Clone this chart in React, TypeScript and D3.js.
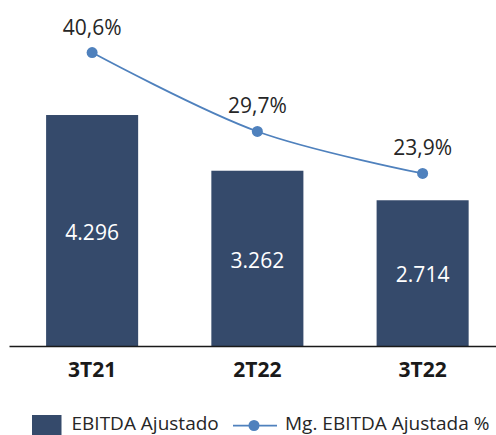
import React from "react";
import * as d3 from "d3";

const categories = ["3T21", "2T22", "3T22"];
const ebitda = [4296, 3262, 2714];
const ebitdaLabels = ["4.296", "3.262", "2.714"];
const margin = [40.6, 29.7, 23.9];
const marginLabels = ["40,6%", "29,7%", "23,9%"];
const legendLabels = ["EBITDA Ajustado", "Mg. EBITDA Ajustada %"];

const W = 496;
const H = 435;
const baseY = 346.5;
const barColor = "#354a6b";
const lineColor = "#4f81bd";
const font = "'Open Sans', sans-serif";

export default function App() {
  const x = d3
    .scaleBand<string>()
    .domain(categories)
    .range([9.5, 505.25])
    .paddingInner(0.443)
    .paddingOuter(0.2215);
  const yBar = d3.scaleLinear().domain([0, 6000]).range([baseY, 23.2]);
  const yLine = d3.scaleLinear().domain([0, 45]).range([baseY, baseY - 45 * 7.24]);

  const cx = (c: string) => (x(c) as number) + x.bandwidth() / 2;
  const pts: [number, number][] = categories.map((c, i) => [cx(c), yLine(margin[i])]);
  const linePath = d3.line().curve(d3.curveCatmullRom.alpha(0.5))(pts) as string;

  return (
    <svg
      width={W}
      height={H}
      style={{ position: "absolute", left: 0, top: 0, background: "#fff" }}
      fontFamily={font}
    >
      {categories.map((c, i) => (
        <rect
          key={c}
          x={x(c)}
          y={yBar(ebitda[i])}
          width={x.bandwidth()}
          height={baseY - yBar(ebitda[i])}
          fill={barColor}
        />
      ))}
      {categories.map((c, i) => (
        <text
          key={c + "l"}
          x={cx(c)}
          y={(yBar(ebitda[i]) + baseY) / 2 + 9}
          textAnchor="middle"
          fontSize={21}
          fill="#ffffff"
        >
          {ebitdaLabels[i]}
        </text>
      ))}
      <line x1={9.5} x2={W} y1={baseY} y2={baseY} stroke="#1a1a1a" strokeWidth={1.5} />
      {categories.map((c) => (
        <text
          key={c + "c"}
          x={cx(c)}
          y={377}
          textAnchor="middle"
          fontSize={21}
          fontWeight="bold"
          fill="#1a1a1a"
        >
          {c}
        </text>
      ))}
      <path d={linePath} fill="none" stroke={lineColor} strokeWidth={1.75} />
      {pts.map((p, i) => (
        <circle key={"m" + i} cx={p[0]} cy={p[1]} r={5.5} fill={lineColor} />
      ))}
      {pts.map((p, i) => (
        <text
          key={"t" + i}
          x={p[0]}
          y={p[1] - 18}
          textAnchor="middle"
          fontSize={21}
          fill="#262626"
        >
          {marginLabels[i]}
        </text>
      ))}
      <rect x={32} y={415} width={29.5} height={22} fill={barColor} />
      <text x={71.5} y={430} fontSize={19} fill="#262626">
        {legendLabels[0]}
      </text>
      <line x1={233} x2={277} y1={425.5} y2={425.5} stroke={lineColor} strokeWidth={1.75} />
      <circle cx={254} cy={425.5} r={5.5} fill={lineColor} />
      <text x={285} y={430} fontSize={19} fill="#262626">
        {legendLabels[1]}
      </text>
    </svg>
  );
}
